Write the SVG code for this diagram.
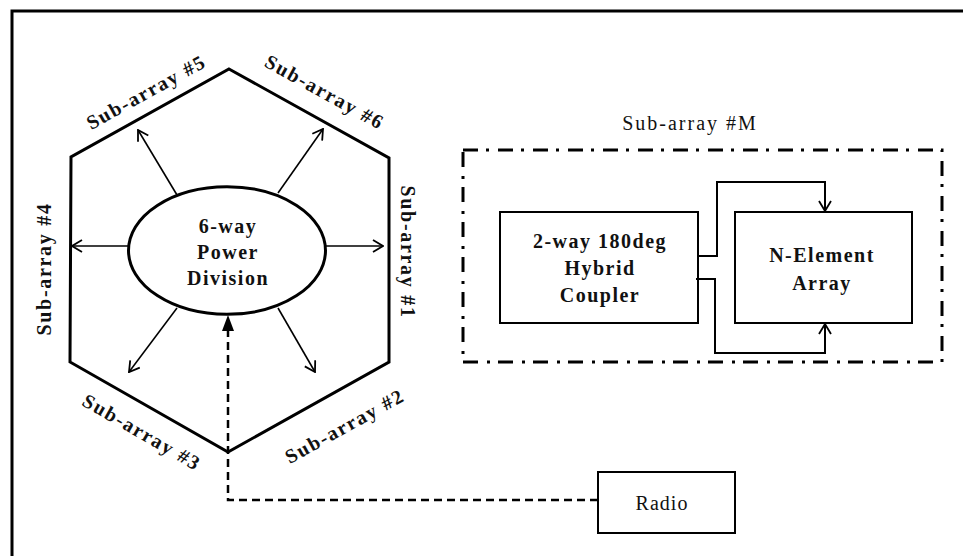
<svg xmlns="http://www.w3.org/2000/svg" width="963" height="556" viewBox="0 0 963 556">
<style>
  .t { font-family: "Liberation Serif", "Times New Roman", serif; font-size: 20px; fill: #111; }
  .b { font-weight: bold; letter-spacing: 1.5px; }
  .r { font-weight: normal; letter-spacing: 1px; }
  .sl { font-weight: bold; letter-spacing: 1.7px; }
  .thick { fill: none; stroke: #000; stroke-width: 3; stroke-linejoin: miter; }
  .box { fill: #fff; stroke: #000; stroke-width: 2; }
  .arr { fill: none; stroke: #000; stroke-width: 1.6; marker-end: url(#open); }
  .conn { fill: none; stroke: #000; stroke-width: 2; marker-end: url(#open); }
</style>
<defs>
  <marker id="open" viewBox="0 0 12 14" refX="11" refY="7" markerWidth="12" markerHeight="14" markerUnits="userSpaceOnUse" orient="auto">
    <path d="M1,1 L11,7 L1,13" fill="none" stroke="#000" stroke-width="1.8"/>
  </marker>
</defs>
<rect x="0" y="0" width="963" height="556" fill="#fff"/>
<g id="frame">
  <path d="M12,556 V11 H963" fill="none" stroke="#000" stroke-width="3"/>
</g>

<g id="hexagon">
  <polygon class="thick" points="229,69 389,158 389,362 228,452 70,362 71,157"/>
  <text class="t sl" text-anchor="middle" transform="translate(149.4,98) rotate(-29)">Sub-array #5</text>
  <text class="t sl" text-anchor="middle" transform="translate(321.6,98) rotate(29)">Sub-array #6</text>
  <text class="t sl" text-anchor="middle" transform="translate(401,252) rotate(90)">Sub-array #1</text>
  <text class="t sl" text-anchor="middle" transform="translate(348,432) rotate(-29)">Sub-array #2</text>
  <text class="t sl" text-anchor="middle" transform="translate(138.5,438) rotate(30)">Sub-array #3</text>
  <text class="t sl" text-anchor="middle" transform="translate(50.5,269) rotate(-90)">Sub-array #4</text>
</g>

<g id="power-division">
  <ellipse cx="227" cy="250.5" rx="98.5" ry="63.8" fill="#fff" stroke="#000" stroke-width="3"/>
  <text class="t b" text-anchor="middle" x="228" y="233">6-way</text>
  <text class="t b" text-anchor="middle" x="228" y="259">Power</text>
  <text class="t b" text-anchor="middle" x="228" y="285">Division</text>
</g>

<g id="subarray-m">
  <text class="t r" text-anchor="middle" x="690" y="130" style="letter-spacing:2px">Sub-array #M</text>
  <rect x="463" y="150" width="479" height="212" fill="none" stroke="#000" stroke-width="3" stroke-dasharray="15 8 3 9"/>
</g>

<g id="hybrid-coupler">
  <rect class="box" x="500" y="212" width="198" height="111"/>
  <text class="t b" text-anchor="middle" x="600" y="248">2-way 180deg</text>
  <text class="t b" text-anchor="middle" x="600" y="275">Hybrid</text>
  <text class="t b" text-anchor="middle" x="600" y="302">Coupler</text>
</g>

<g id="n-element-array">
  <rect class="box" x="735" y="212" width="177" height="111"/>
  <text class="t b" text-anchor="middle" x="822" y="262">N-Element</text>
  <text class="t b" text-anchor="middle" x="822" y="290">Array</text>
</g>

<g id="radio">
  <rect class="box" x="598" y="472" width="137" height="61"/>
  <text class="t r" text-anchor="middle" x="662" y="510">Radio</text>
</g>

<g id="connectors">
  <line class="arr" x1="326" y1="246" x2="383" y2="246"/>
  <line class="arr" x1="128" y1="246" x2="72" y2="246"/>
  <line class="arr" x1="177" y1="195" x2="138" y2="130"/>
  <line class="arr" x1="278" y1="193" x2="323" y2="129"/>
  <line class="arr" x1="177" y1="308" x2="129" y2="372"/>
  <line class="arr" x1="278" y1="308" x2="315" y2="372"/>
  <path class="conn" d="M698,256 H717 V182 H825 V211"/>
  <path class="conn" d="M696,279 H715 V353 H825 V324"/>
  <path d="M598,500 H228 V331" fill="none" stroke="#000" stroke-width="2.5" stroke-dasharray="8 5"/>
  <polygon points="228,315 222,331 234,331" fill="#000"/>
</g>
</svg>
